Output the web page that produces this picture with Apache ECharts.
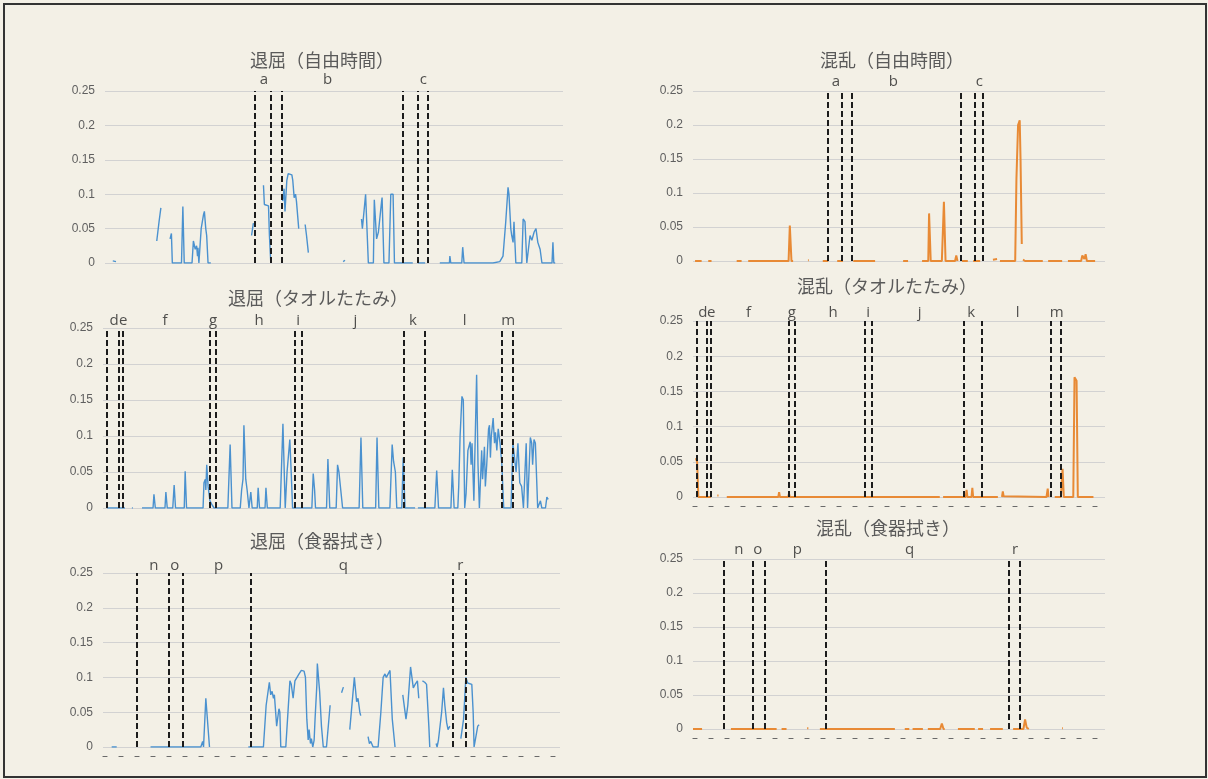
<html>
    <head>
        <meta charset="utf-8">
        <script src="https://cdn.jsdelivr.net/npm/echarts@6/dist/echarts.min.js"></script>
    </head>
    <body>
        <style>
            html, body {
                margin: 0;
                background: #f3f0e6;
            }
            #main {
                width: 1208px;
                height: 779px;
            }
            #frame {
                position: absolute;
                left: 3px;
                top: 3px;
                width: 1200px;
                height: 771px;
                border: 2px solid #333;
                pointer-events: none;
            }
        </style>
        <div id="main"></div>
        <div id="frame"></div>
        <script>
            // time axis is 0..100 (share of the session), y is the score
            // cut positions (dashed lines) and segment tags per task
            var freeCuts = [32.6, 36.1, 38.5, 65.1, 68.3, 70.4];
            var freeTagPos = [34.7, 48.6, 69.5];
            var freeTags = ['a', 'b', 'c'];

            var towelCuts = [0.9, 3.4, 4.2, 23.2, 24.6, 41.8, 43.4, 65.6, 70.2, 86.8, 89.3];
            var towelTagPos = [2.4, 4.4, 13.5, 24.0, 34.0, 42.5, 55.0, 67.5, 78.8, 88.3];
            var towelTags = ['d', 'e', 'f', 'g', 'h', 'i', 'j', 'k', 'l', 'm'];

            var dishCuts = [7.4, 14.4, 17.5, 32.3, 76.6, 79.4];
            var dishTagPos = [11.1, 15.7, 25.3, 52.6, 78.2];
            var dishTags = ['n', 'o', 'p', 'q', 'r'];

            var yTicks = [0, 0.05, 0.1, 0.15, 0.2, 0.25];

            // series values, null = gap in the recording
            var boredFree = [
                [1.7, 0.003], [2.4, 0.002], null,
                [11.3, 0.032], [11.8, 0.06], [12.2, 0.08], null,
                [14.2, 0.035], [14.5, 0.043], [14.7, 0], [16.7, 0], [17.0, 0.082], [17.3, 0], [19.0, 0], [19.3, 0.032],
                [19.7, 0.02], [20.0, 0.025], [20.2, 0.01], [20.3, 0.022], [20.5, 0], [20.7, 0], [21.0, 0.05], [21.5, 0.07],
                [21.7, 0.075], [22.0, 0.05], [22.2, 0.04], [22.5, 0], [23.1, 0], null,
                [32.0, 0.04], [32.4, 0.058], null,
                [34.6, 0.113], [34.8, 0.085], [35.7, 0.083], [35.9, 0.04], [36.2, 0], null,
                [38.8, 0.09], [39.1, 0.108], [39.3, 0.075], [39.7, 0.12], [40.0, 0.13], [40.8, 0.128], [41.0, 0.12],
                [41.3, 0.095], [41.6, 0.1], [41.8, 0.09], [42.3, 0.05], null,
                [43.7, 0.056], [44.0, 0.04], [44.4, 0.015], null,
                [52.0, 0.002], [52.4, 0.004], null,
                [56.0, 0.064], [56.2, 0.05], [56.9, 0.1], [57.5, 0], [58.6, 0], [58.8, 0.092], [59.3, 0.035], [59.7, 0.045],
                [60.4, 0.09], [60.5, 0.095], [60.9, 0], [62.0, 0], [62.4, 0.1], [62.9, 0.1], [63.2, 0], [67.2, 0], null,
                [68.3, 0], [69.9, 0], null,
                [73.1, 0], [75.2, 0], [75.3, 0.01], [75.5, 0], [77.9, 0], [78.1, 0.023], [78.4, 0], [84.7, 0], [86.2, 0.002],
                [86.9, 0.01], [87.5, 0.06], [88.0, 0.11], [88.2, 0.1], [88.6, 0.05], [88.8, 0.04], [89.1, 0.03], [89.3, 0.06],
                [89.7, 0], [91.0, 0], [91.3, 0.064], [91.7, 0.06], [92.1, 0], [92.3, 0], [92.8, 0.04], [93.2, 0.033],
                [93.7, 0.045], [94.1, 0.05], [94.5, 0.03], [95.0, 0.02], [95.4, 0], [97.6, 0], [97.8, 0.03], [98.0, 0], [98.3, 0]
            ];

            var confusedFree = [
                [0.5, 0], [2.1, 0], null, [3.7, 0], [4.5, 0], null, [10.6, 0], [11.8, 0], null,
                [13.4, 0], [23.2, 0], [23.5, 0.052], [23.9, 0], [24.3, 0], null,
                [27.9, 0.001], [28.1, 0.001], null,
                [31.5, 0], [32.8, 0], null, [35.0, 0], [36.4, 0], null, [38.9, 0], [44.2, 0], null,
                [51.0, 0], [52.2, 0], null,
                [55.6, 0], [57.1, 0], [57.3, 0.07], [57.7, 0], [60.4, 0], [60.9, 0.087], [61.3, 0], [63.6, 0],
                [63.9, 0.008], [64.2, 0], null,
                [65.3, 0], [66.7, 0], null, [68.0, 0], [69.7, 0], null, [72.8, 0.002], [73.8, 0.003], null,
                [74.5, 0], [78.2, 0], [78.5, 0.12], [78.9, 0.2], [79.3, 0.207], [79.5, 0.15], [79.8, 0.025], null,
                [80.1, 0.002], [80.3, 0.004], [80.6, 0], [84.9, 0], null,
                [86.2, 0], [89.6, 0], null,
                [91.0, 0], [94.2, 0], [94.5, 0.008], [94.8, 0.01], [95.0, 0.003], [95.3, 0.01], [95.6, 0], [97.6, 0]
            ];

            var boredTowel = [
                [0.9, 0], [4.8, 0], null, [6.3, 0], [6.5, 0], null,
                [8.5, 0], [10.9, 0], [11.1, 0.019], [11.4, 0], [13.5, 0], [13.7, 0.022], [14.0, 0], [15.2, 0],
                [15.5, 0.032], [15.8, 0], [17.7, 0], [17.9, 0.051], [18.2, 0], [21.8, 0], [22.0, 0.035], [22.3, 0.04],
                [22.4, 0.025], [22.6, 0.06], [22.9, 0.03], [23.3, 0.01], [23.7, 0.005], [24.2, 0], [27.2, 0],
                [27.7, 0.088], [28.1, 0], [29.9, 0], [30.2, 0.025], [30.5, 0.04], [30.7, 0.115], [31.1, 0.04],
                [31.4, 0.025], [31.8, 0], [32.0, 0], [32.2, 0.022], [32.5, 0], [33.6, 0], [33.8, 0.028], [34.1, 0],
                [35.3, 0], [35.5, 0.028], [35.8, 0], [38.6, 0], [39.2, 0.117], [39.7, 0], [40.1, 0.05], [40.7, 0.095],
                [41.0, 0.05], [41.3, 0], [45.5, 0], [45.8, 0.048], [46.1, 0.025], [46.3, 0], [48.7, 0], [49.0, 0.068],
                [49.4, 0], [50.8, 0], [51.1, 0.06], [51.4, 0.05], [51.8, 0.048], [52.2, 0], [55.8, 0], [56.2, 0.098],
                [56.6, 0], [59.4, 0], [59.7, 0.098], [60.1, 0], [62.5, 0], [63.0, 0.088], [63.3, 0.065], [63.7, 0.05],
                [64.0, 0], [65.1, 0], [65.4, 0.07], [65.8, 0], [68.0, 0], null,
                [68.6, 0], [72.3, 0], [72.7, 0.052], [73.1, 0], [75.8, 0], [76.1, 0.053], [76.5, 0], [77.3, 0],
                [77.5, 0.03], [77.8, 0.1], [78.2, 0.155], [78.5, 0.15], [78.8, 0], [79.1, 0.02], [79.5, 0.08],
                [80.0, 0.092], [80.2, 0.06], [80.4, 0.09], [80.8, 0.01], [81.0, 0.07], [81.4, 0.185], [81.7, 0.06],
                [82.0, 0], [82.5, 0.08], [82.7, 0.04], [83.1, 0.085], [83.3, 0.03], [83.6, 0.06], [84.0, 0.11],
                [84.2, 0.115], [84.4, 0.07], [84.6, 0.1], [85.0, 0.125], [85.3, 0.09], [85.5, 0.105], [85.8, 0.08],
                [86.1, 0.11], [86.5, 0.09], [86.9, 0.06], [87.3, 0], [88.9, 0], [89.3, 0.09], [89.7, 0.088],
                [90.0, 0.05], [90.4, 0.09], [90.8, 0.035], [91.2, 0.03], [91.6, 0], [92.0, 0], [92.2, 0.09], [92.5, 0],
                [92.8, 0], [93.1, 0.098], [93.4, 0.09], [93.6, 0.06], [93.9, 0.095], [94.2, 0.09], [94.7, 0], [95.1, 0],
                [95.3, 0.01], [95.6, 0], [96.4, 0], [96.7, 0.015], [97.0, 0.012]
            ];

            var confusedTowel = [
                [0.7, 0.055], [1.0, 0.05], [1.3, 0], [4.4, 0], null, [5.9, 0.002], [6.2, 0.002], null,
                [8.2, 0], [20.7, 0], [20.9, 0.007], [21.1, 0], [23.1, 0], [23.3, 0.005], [23.5, 0], [59.9, 0], null,
                [60.7, 0], [66.2, 0], [66.4, 0.01], [66.6, 0], [67.6, 0], [67.8, 0.013], [68.0, 0], [74.0, 0], null,
                [75.0, 0], [75.2, 0.008], [75.4, 0.001], [85.8, 0], [86.1, 0.012], [86.3, 0], null,
                [87.8, 0], [89.3, 0], [89.7, 0.04], [90.0, 0], [92.3, 0], [92.6, 0.17], [93.1, 0.165], [93.4, 0], [97.2, 0]
            ];

            var boredDish = [
                [1.9, 0], [3.0, 0], null,
                [10.4, 0], [21.4, 0], [21.8, 0.008], [22.0, 0], [22.3, 0], [22.5, 0.07], [22.8, 0.068], [23.3, 0], null,
                [31.8, 0], [35.1, 0], [35.7, 0.06], [36.4, 0.093], [36.7, 0.075], [37.0, 0.08], [37.3, 0.07],
                [37.5, 0.075], [38.0, 0.03], [38.5, 0.055], [38.7, 0.05], [38.9, 0], [40.0, 0], [40.9, 0.095],
                [41.2, 0.09], [41.6, 0.07], [42.0, 0.095], [42.9, 0.105], [43.4, 0.11], [44.0, 0.109], [44.3, 0.1],
                [44.6, 0.04], [44.9, 0.01], [45.1, 0.025], [45.4, 0.005], [45.6, 0.012], [45.9, 0], [46.2, 0.01],
                [46.4, 0.04], [46.8, 0.09], [46.9, 0.12], [47.4, 0.08], [47.8, 0.03], [48.2, 0], [48.9, 0],
                [49.7, 0.06], null,
                [52.2, 0.078], [52.6, 0.086], null,
                [54.0, 0.025], [55.0, 0.1], [55.5, 0.065], [55.8, 0.07], [56.2, 0.05], [56.4, 0.045], null,
                [58.0, 0.015], [58.3, 0.005], [58.6, 0.008], [59.1, 0], [60.2, 0], [60.8, 0.05], [61.3, 0.1],
                [61.7, 0.105], [62.0, 0.1], [62.4, 0.098], [62.8, 0.11], [63.3, 0.04], [63.9, 0], null,
                [65.6, 0.075], [66.3, 0.04], [66.7, 0.06], [67.3, 0.115], [67.6, 0.1], [67.9, 0.085], [68.3, 0.09],
                [68.8, 0.095], [69.1, 0.07], null,
                [69.9, 0.095], [70.4, 0.093], [70.8, 0.09], [71.3, 0.03], [71.5, 0], null,
                [72.9, 0.005], [73.1, 0], [73.4, 0.01], [74.1, 0.05], [74.5, 0.085], [74.8, 0.06], [75.2, 0.035],
                [75.5, 0.025], [75.9, 0.03], null,
                [78.3, 0.012], [78.6, 0.01], [78.9, 0.04], [79.4, 0.1], [79.8, 0.092], [80.2, 0.09], [80.7, 0.09],
                [81.0, 0.05], [81.2, 0], [81.5, 0], [82.0, 0.03], [82.3, 0.032]
            ];

            var confusedDish = [
                [0.0, 0], [2.2, 0], null, [9.2, 0], [20.3, 0], null, [21.5, 0], [22.7, 0], null,
                [27.7, 0.001], [28.0, 0.001], null, [30.8, 0], [49.0, 0], null, [51.4, 0], [52.5, 0], null,
                [53.3, 0], [55.8, 0], null, [57.0, 0], [60.0, 0], [60.4, 0.008], [60.8, 0], [61.1, 0], null,
                [64.3, 0], [66.5, 0], [66.8, 0.002], [67.1, 0], [68.4, 0], null, [69.2, 0], [70.4, 0], null,
                [72.1, 0], [75.2, 0], null, [77.7, 0], [80.2, 0], [80.6, 0.014], [81.0, 0.002], [81.5, 0], null,
                [89.6, 0.001], [89.8, 0.001]
            ];

            var BLUE = '#4a91cf';
            var ORANGE = '#e88a35';

            var panels = [
                {title: '退屈（自由時間）', data: boredFree, color: BLUE, width: 1.4, cuts: freeCuts, tagPos: freeTagPos, tags: freeTags,
                 grid: {left: 105, top: 91, width: 458, height: 172}, tx: 317, ty: 46, tagGap: 4, dashAxis: false},
                {title: '混乱（自由時間）', data: confusedFree, color: ORANGE, width: 2, cuts: freeCuts, tagPos: freeTagPos, tags: freeTags,
                 grid: {left: 693, top: 91, width: 412, height: 170}, tx: 887, ty: 46, tagGap: 2, dashAxis: false},
                {title: '退屈（タオルたたみ）', data: boredTowel, color: BLUE, width: 1.4, cuts: towelCuts, tagPos: towelTagPos, tags: towelTags,
                 grid: {left: 103, top: 328, width: 459, height: 180}, tx: 313, ty: 284, tagGap: 0, dashAxis: false},
                {title: '混乱（タオルたたみ）', data: confusedTowel, color: ORANGE, width: 2, cuts: towelCuts, tagPos: towelTagPos, tags: towelTags,
                 grid: {left: 693, top: 321, width: 412, height: 176}, tx: 882, ty: 272, tagGap: 1, dashAxis: true},
                {title: '退屈（食器拭き）', data: boredDish, color: BLUE, width: 1.4, cuts: dishCuts, tagPos: dishTagPos, tags: dishTags,
                 grid: {left: 103, top: 573, width: 457, height: 174}, tx: 317, ty: 527, tagGap: 0, dashAxis: true},
                {title: '混乱（食器拭き）', data: confusedDish, color: ORANGE, width: 2, cuts: dishCuts, tagPos: dishTagPos, tags: dishTags,
                 grid: {left: 693, top: 559, width: 412, height: 170}, tx: 883, ty: 514, tagGap: 2, dashAxis: true}
            ];

            var chart = echarts.init(document.getElementById('main'));
            var option = {
                animation: false,
                title: [], grid: [], xAxis: [], yAxis: [], series: []
            };

            panels.forEach(function (p, i) {
                option.title.push({
                    text: p.title, left: p.tx, top: p.ty, textAlign: 'center',
                    textStyle: {fontFamily: 'Noto Sans CJK JP', fontSize: 18, fontWeight: 'normal', color: '#5a5a5a'}
                });
                option.grid.push(p.grid);
                option.xAxis.push({
                    type: 'value', gridIndex: i, min: 0, max: 100,
                    offset: 9,
                    axisLine: {show: p.dashAxis, onZero: false, lineStyle: {color: '#6a6a6a', type: [4, 12], width: 1.2}},
                    axisTick: {show: false}, axisLabel: {show: false}, splitLine: {show: false}
                });
                option.yAxis.push({
                    type: 'value', gridIndex: i, min: yTicks[0], max: yTicks[yTicks.length - 1], interval: 0.05,
                    axisLine: {show: false}, axisTick: {show: false},
                    axisLabel: {margin: 10, fontSize: 12, color: '#5f5f5f', fontFamily: 'Liberation Sans'},
                    splitLine: {lineStyle: {color: '#d2d2d2', width: 1}}
                });
                option.series.push({
                    type: 'line', xAxisIndex: i, yAxisIndex: i,
                    data: p.data.map(function (d) { return d === null ? ['-', '-'] : d; }),
                    showSymbol: false, connectNulls: false,
                    lineStyle: {color: p.color, width: p.width},
                    itemStyle: {color: p.color},
                    markLine: {
                        silent: true, symbol: ['none', 'none'],
                        label: {show: false},
                        lineStyle: {color: '#1c1c1c', type: [6, 3], width: 2},
                        data: p.cuts.map(function (x) { return {xAxis: x}; })
                    }
                });
                option.series.push({
                    type: 'scatter', xAxisIndex: i, yAxisIndex: i, clip: false,
                    symbolSize: 0, silent: true,
                    data: p.tagPos.map(function (x, k) { return [x, yTicks[yTicks.length - 1], p.tags[k]]; }),
                    label: {
                        show: true, position: 'top', distance: p.tagGap,
                        formatter: function (q) { return q.value[2]; },
                        fontFamily: 'Open Sans', fontSize: 15, color: '#262626'
                    }
                });
            });

            chart.setOption(option);
            window.onresize = chart.resize;
        </script>
    </body>
</html>
